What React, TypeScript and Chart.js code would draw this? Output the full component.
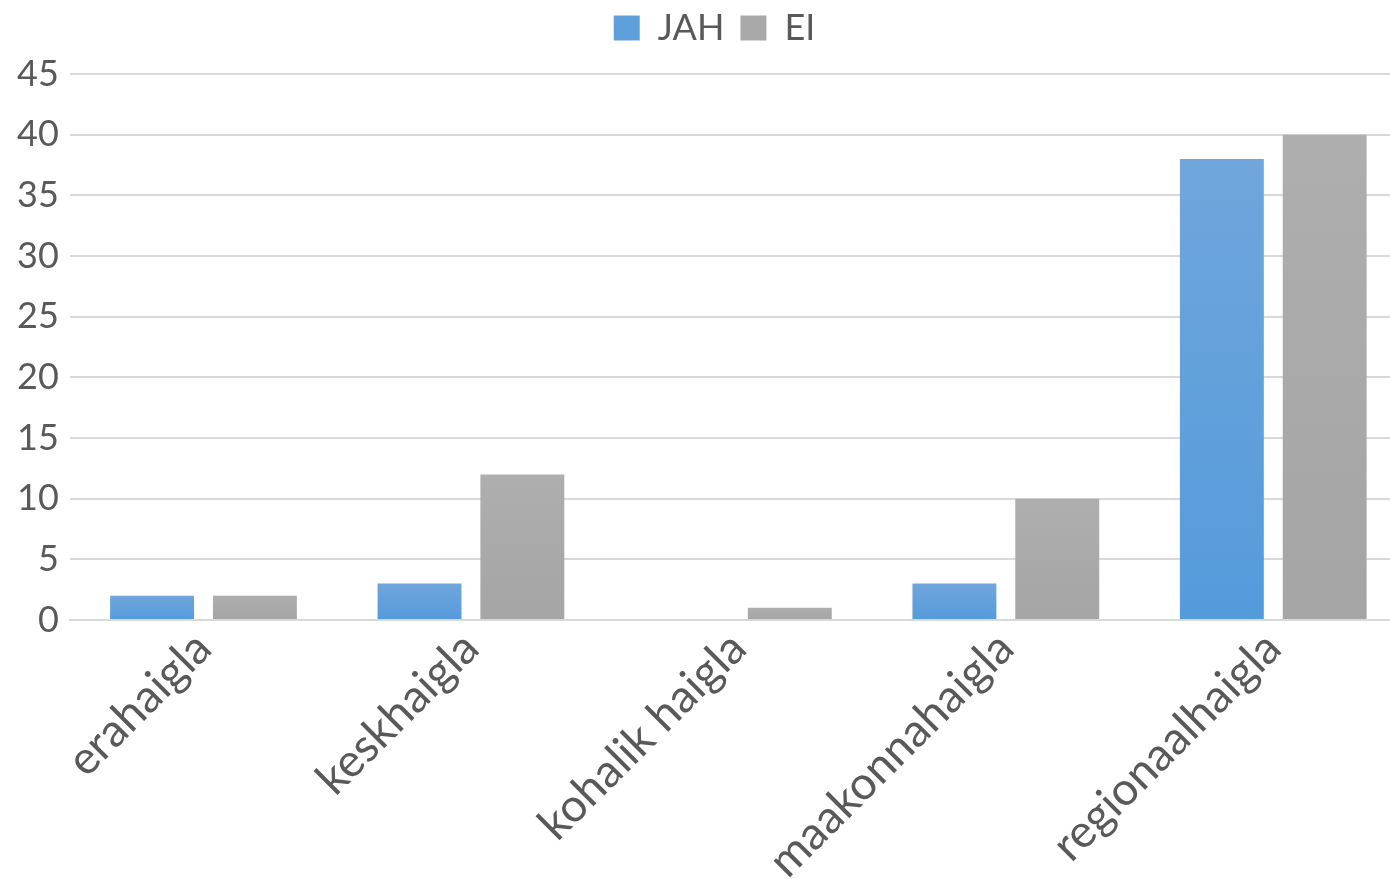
import React, { useEffect, useRef } from "react";
import { Chart, registerables } from "chart.js";

Chart.register(...registerables);

const categories = ["erahaigla", "keskhaigla", "kohalik haigla", "maakonnahaigla", "regionaalhaigla"];
const jahValues = [2, 3, 0, 3, 38];
const eiValues = [2, 12, 1, 10, 40];
const seriesNames = ["JAH", "EI"];

function barGradient(top: string, bottom: string) {
  return (ctx: any) => {
    const chart = ctx.chart;
    const area = chart.chartArea;
    if (!area || ctx.type !== "data") return bottom;
    const ys = chart.scales.y;
    const y0 = ys.getPixelForValue(0);
    const y1 = ys.getPixelForValue(ctx.raw ?? 0);
    if (!isFinite(y0) || !isFinite(y1) || Math.abs(y0 - y1) < 1) return bottom;
    const g = chart.ctx.createLinearGradient(0, y1, 0, y0);
    g.addColorStop(0, top);
    g.addColorStop(1, bottom);
    return g;
  };
}

const legendMargin = {
  id: "legendMargin",
  beforeInit(chart: any) {
    const fit = chart.legend.fit;
    chart.legend.fit = function () {
      fit.bind(chart.legend)();
      this.height += 12;
    };
  },
  afterLayout(chart: any) {
    const l = chart.legend;
    if (!l) return;
    l.top -= 6;
    l.bottom -= 6;
    l.left += 8;
    l.right += 8;
  },
};

export default function App() {
  const ref = useRef<HTMLCanvasElement>(null);
  useEffect(() => {
    if (!ref.current) return;
    const font = { family: "Lato", size: 36 };
    const xfont = { family: "Lato", size: 46 };
    const chart = new Chart(ref.current, {
      type: "bar",
      data: {
        labels: categories,
        datasets: [
          {
            label: seriesNames[0],
            data: jahValues,
            backgroundColor: barGradient("#70a6db", "#549bdb"),
            categoryPercentage: 0.769,
            barPercentage: 0.816,
          },
          {
            label: seriesNames[1],
            data: eiValues,
            backgroundColor: barGradient("#aeaeae", "#a5a5a5"),
            categoryPercentage: 0.769,
            barPercentage: 0.816,
          },
        ],
      },
      plugins: [legendMargin],
      options: {
        animation: false,
        responsive: true,
        maintainAspectRatio: false,
        layout: { padding: { left: 6, right: 0, top: 0, bottom: 0 } },
        plugins: {
          tooltip: { enabled: false },
          legend: {
            position: "top",
            labels: {
              font,
              color: "#595959",
              boxWidth: 26,
              boxHeight: 25,
              padding: 16,
              generateLabels: (c: any) =>
                c.data.datasets.map((d: any, i: number) => ({
                  text: d.label,
                  fillStyle: i === 0 ? "#60a0da" : "#a9a9a9",
                  strokeStyle: "transparent",
                  lineWidth: 0,
                  fontColor: "#595959",
                  datasetIndex: i,
                  hidden: false,
                })),
            },
          },
        },
        scales: {
          x: {
            grid: { display: false, drawTicks: false },
            border: { display: true, color: "#d9d9d9", width: 2 },
            ticks: { font: xfont, color: "#595959", maxRotation: 45, minRotation: 45, padding: 1 },
            afterFit: (scale: any) => {
              scale.height = 259;
            },
          },
          y: {
            min: 0,
            max: 45,
            ticks: { stepSize: 5, font, color: "#595959", padding: 11 },
            grid: { color: "#d9d9d9", lineWidth: 2, drawTicks: false },
            border: { display: false },
          },
        },
      },
    });
    return () => chart.destroy();
  }, []);
  return (
    <div style={{ position: "absolute", left: 0, top: 0, width: 1390, height: 879, background: "#fff", overflow: "hidden" }}>
      <div style={{ position: "relative", width: 1407, height: 879 }}>
        <canvas ref={ref} />
      </div>
    </div>
  );
}
